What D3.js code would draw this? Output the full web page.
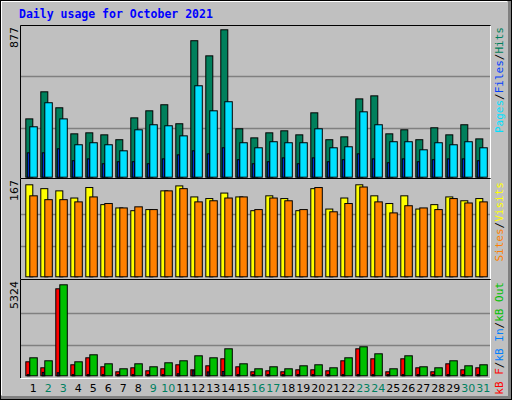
<!DOCTYPE html>
<html><head><meta charset="utf-8">
<script src="https://cdn.jsdelivr.net/npm/d3@7"></script>
<style>body{margin:0;background:#fff}</style>
</head><body><div id="chart"></div>
<script>
const days = d3.range(1, 32);
const weekend = [2, 3, 9, 10, 16, 17, 23, 24, 30, 31];
const hits  = [347,508,413,258,264,252,223,353,395,431,318,812,722,877,288,234,264,276,252,383,223,240,466,484,258,282,223,294,252,312,228];
const pages = [300,443,347,193,205,193,157,282,312,306,246,544,395,449,205,175,211,205,205,288,175,181,389,312,211,211,163,205,193,211,175];
const files = [145,145,169,98,109,80,92,92,80,109,133,157,139,175,104,80,92,115,80,115,92,104,139,109,86,109,92,104,109,109,98];
const visits = [167,160,156,143,162,131,125,120,122,156,165,145,142,152,145,120,147,142,120,160,123,143,167,147,133,147,123,131,145,138,142];
const sites  = [147,140,140,136,145,133,125,127,122,156,160,136,138,143,145,122,143,138,122,162,118,133,163,136,116,129,125,122,142,134,136];
const kbOut = [1053,878,5324,819,1229,702,410,702,527,761,878,1170,1053,1580,702,410,527,410,585,644,468,1053,1697,1287,410,1170,527,468,878,585,644];
const kbF   = [819,468,5090,644,1053,527,234,468,293,410,644,351,585,995,527,234,293,234,351,351,293,878,1580,995,234,995,468,234,702,351,468];
const kbIn  = [70,200,180,70,70,70,70,70,70,70,120,300,230,250,70,70,70,70,70,70,70,70,70,70,70,70,70,70,70,70,70];
const maxes = [877, 167, 5324];

const svg = d3.select("#chart").append("svg").attr("width", 512).attr("height", 400)
  .style("font-family", "DejaVu Sans Mono");

// frame
svg.append("rect").attr("width", 512).attr("height", 400).attr("fill", "#808080");
svg.append("rect").attr("width", 508).attr("height", 396).attr("fill", "#c0c0c0");
svg.append("path").attr("d", "M1,395V1H507").attr("stroke", "#fff").attr("stroke-width", 2).attr("fill", "none");
svg.append("rect").attr("x", 0.5).attr("y", 0.5).attr("width", 511).attr("height", 399).attr("fill", "none").attr("stroke", "#000");

svg.append("text").attr("x", 19).attr("y", 18).attr("fill", "#0000ff")
  .attr("font-size", 11.5).attr("font-weight", "bold").text("Daily usage for October 2021");

const x = d3.scaleBand().domain(days).range([25.3, 490.3]);

const panels = [
  {top: 25, bottom: 178, base: 176.7, peak: 29.3},
  {top: 178, bottom: 279, base: 276.3, peak: 184.3},
  {top: 279, bottom: 378, base: 375.3, peak: 284.3}
];
const ys = panels.map((p, i) => d3.scaleLinear().domain([0, maxes[i]]).range([p.base, p.peak]));

panels.forEach((p, i) => {
  svg.append("path").attr("d", `M20.5,${p.bottom}V${p.top + 0.5}H490.5`).attr("stroke", "#000").attr("fill", "none");
  svg.append("path").attr("d", `M490.5,${p.top + 1}V${p.bottom}`).attr("stroke", "#fff").attr("fill", "none");
  [0.33, 0.68].forEach(f => {
    const gy = Math.round(p.base - f * (p.base - p.peak)) + 0.5;
    svg.append("line").attr("x1", 21).attr("x2", 490).attr("y1", gy).attr("y2", gy)
      .attr("stroke", "#808080").attr("stroke-width", 1.5);
  });
  svg.append("text").attr("transform", `translate(18,${p.top + 2}) rotate(-90)`)
    .attr("text-anchor", "end").attr("font-size", 11).attr("font-family", "DejaVu Sans")
    .text(maxes[i]);
});
svg.append("path").attr("d", "M20.5,378.5H490.5").attr("stroke", "#fff");

function bars(vals, y, dx, w, color) {
  svg.append("g").selectAll("rect").data(vals).enter().append("rect")
    .attr("x", (d, i) => x(days[i]) + dx + 0.5)
    .attr("y", d => y(d) + 0.5)
    .attr("width", w)
    .attr("height", d => y(0) - y(d))
    .attr("fill", color).attr("stroke", "#000");
}
bars(hits, ys[0], 0, 7, "#00805c");
bars(pages, ys[0], 4, 7.5, "#00e0ff");
bars(files, ys[0], 1.5, 2, "#0040ff");
bars(visits, ys[1], 0, 7, "#ffff00");
bars(sites, ys[1], 4, 7.5, "#ff8000");
bars(kbF, ys[2], 0, 4, "#ff0000");
bars(kbOut, ys[2], 4, 7.5, "#00c000");
bars(kbIn, ys[2], 1.5, 1.5, "#0080ff");

svg.append("g").selectAll("text").data(days).enter().append("text")
  .attr("x", d => x(d) + 8).attr("y", 392).attr("text-anchor", "middle")
  .attr("font-size", 11).attr("font-family", "DejaVu Sans")
  .attr("fill", d => weekend.includes(d) ? "#008060" : "#000").text(d => d);

function legend(top, parts) {
  const t = svg.append("text").attr("transform", `translate(503,${top}) rotate(-90)`)
    .attr("text-anchor", "end").attr("font-size", 11);
  parts.forEach(([s, c]) => t.append("tspan").attr("fill", c).text(s));
}
legend(27, [["Pages", "#00e0ff"], ["/", "#000"], ["Files", "#0040ff"], ["/", "#000"], ["Hits", "#00805c"]]);
legend(182, [["Sites", "#ff8000"], ["/", "#000"], ["Visits", "#ffff00"]]);
legend(282, [["kB F", "#ff0000"], ["/", "#000"], ["kB In", "#0080ff"], ["/", "#000"], ["kB Out", "#00c000"]]);
</script></body></html>
